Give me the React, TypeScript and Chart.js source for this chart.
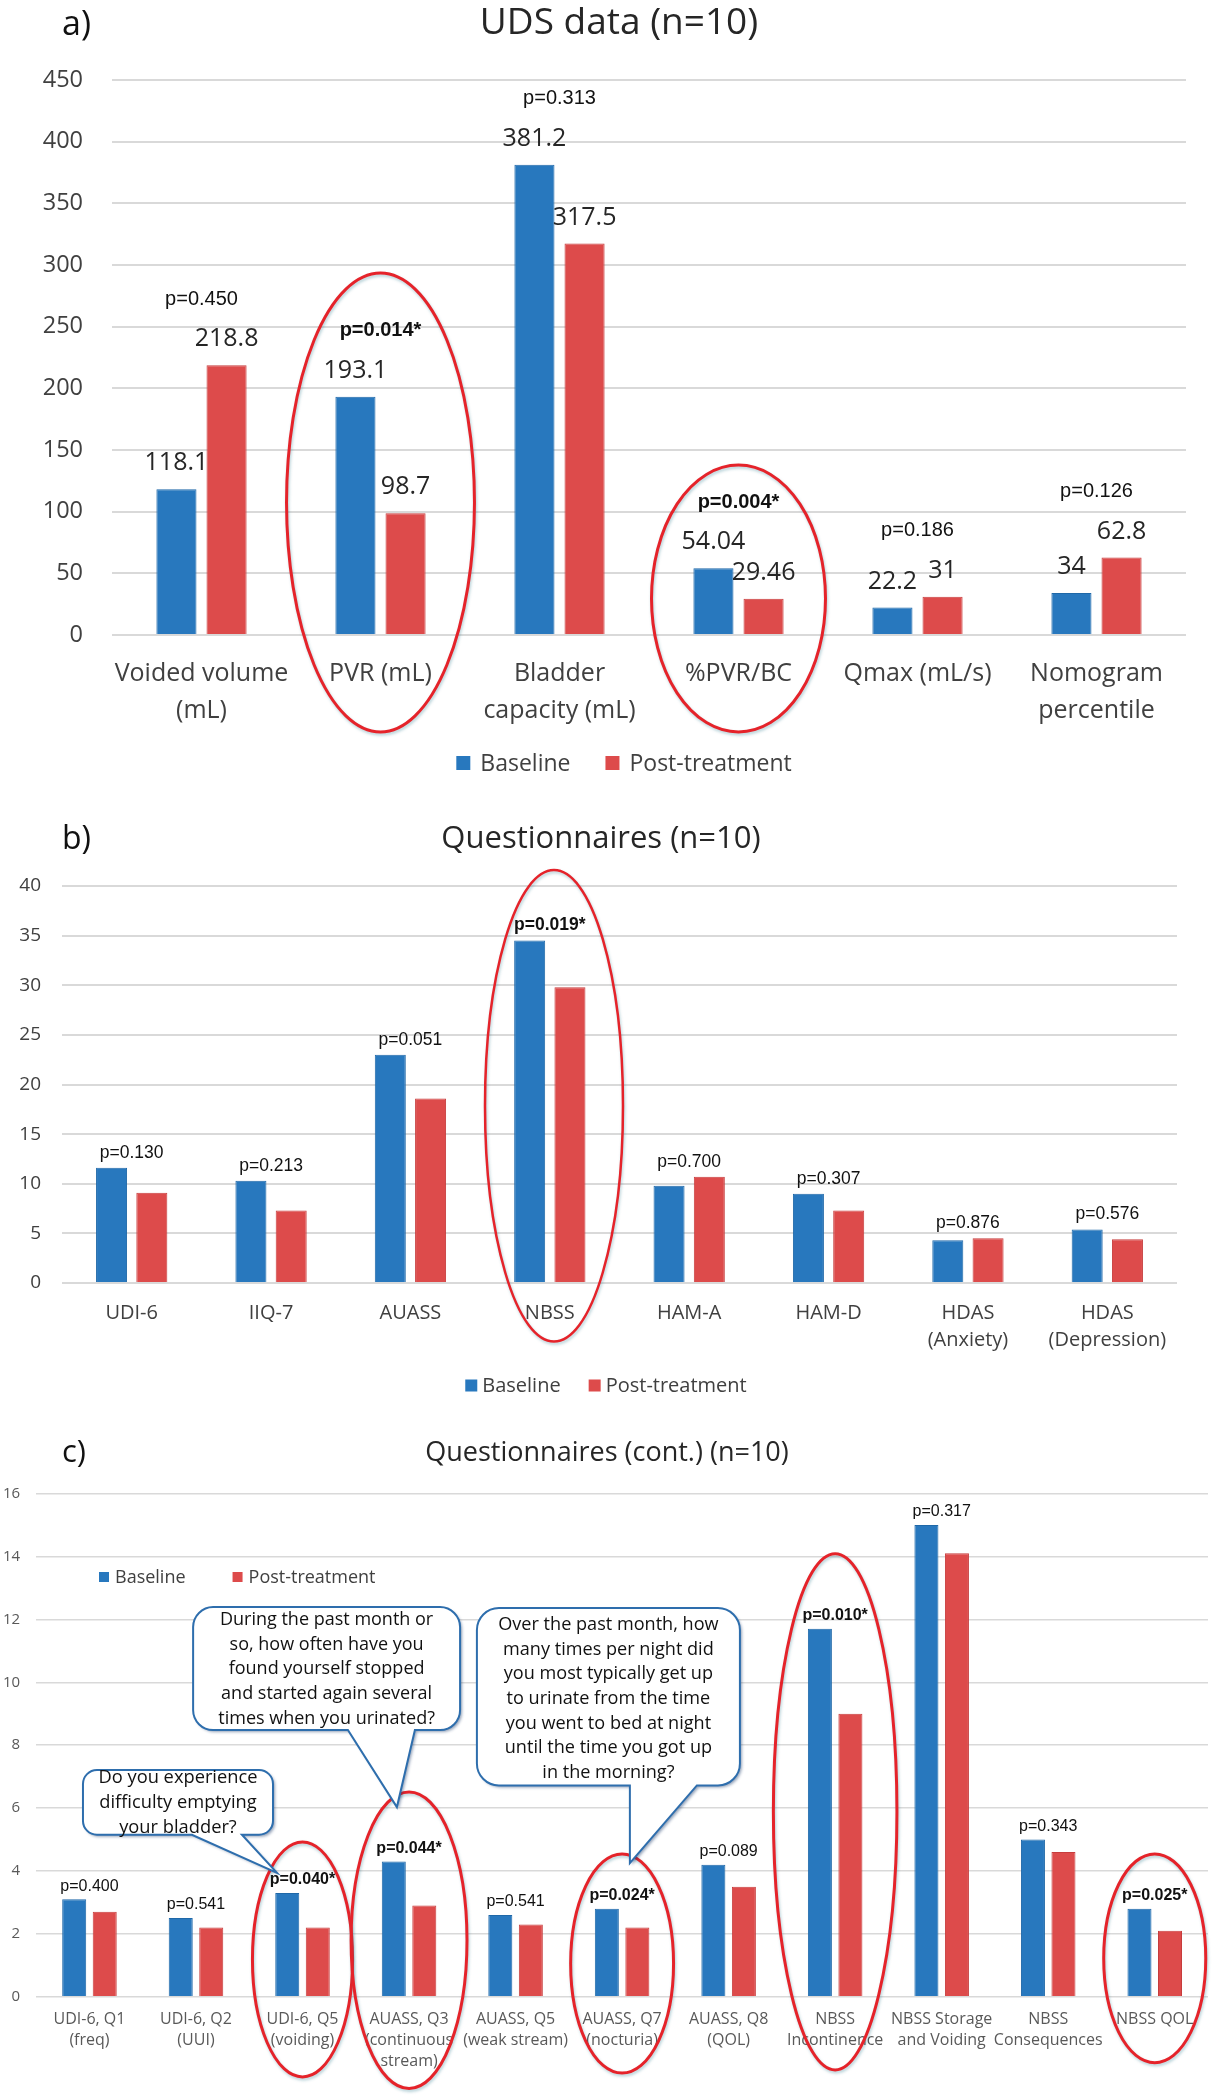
import React, { useEffect, useRef } from 'react';
import { Chart, registerables } from 'chart.js';

Chart.register(...registerables);

const OPEN = "'Open Sans', 'Noto Sans', sans-serif";
const ARIAL = "'Liberation Sans', Arial, sans-serif";
const BLUE = '#2878BE';
const BLUE_EDGE = '#1F68A8';
const RED = '#DD4B4B';
const RED_EDGE = '#C73D3D';
const ELLIPSE = '#E5232A';
const BUBBLE_EDGE = '#2E6EAD';

// ---------- Panel a: UDS data ----------
const udsCategories = [['Voided volume', '(mL)'], 'PVR (mL)', ['Bladder', 'capacity (mL)'], '%PVR/BC', 'Qmax (mL/s)', ['Nomogram', 'percentile']];
const udsBaseline = [118.1, 193.1, 381.2, 54.04, 22.2, 34];
const udsPost = [218.8, 98.7, 317.5, 29.46, 31, 62.8];
const udsPValues = ['p=0.450', 'p=0.014*', 'p=0.313', 'p=0.004*', 'p=0.186', 'p=0.126'];
const udsTicks = { min: 0, max: 450, step: 50 };

// ---------- Panel b: Questionnaires ----------
const questCategories = ['UDI-6', 'IIQ-7', 'AUASS', 'NBSS', 'HAM-A', 'HAM-D', ['HDAS', '(Anxiety)'], ['HDAS', '(Depression)']];
const questBaseline = [11.6, 10.3, 23.0, 34.5, 9.8, 9.0, 4.3, 5.4];
const questPost = [9.1, 7.3, 18.6, 29.8, 10.7, 7.3, 4.5, 4.4];
const questPValues = ['p=0.130', 'p=0.213', 'p=0.051', 'p=0.019*', 'p=0.700', 'p=0.307', 'p=0.876', 'p=0.576'];
const questTicks = { min: 0, max: 40, step: 5 };

// ---------- Panel c: Questionnaires (cont.) ----------
const contCategories = [
  ['UDI-6, Q1', '(freq)'], ['UDI-6, Q2', '(UUI)'], ['UDI-6, Q5', '(voiding)'],
  ['AUASS, Q3', '(continuous', 'stream)'], ['AUASS, Q5', '(weak stream)'], ['AUASS, Q7', '(nocturia)'],
  ['AUASS, Q8', '(QOL)'], ['NBSS', 'Incontinence'], ['NBSS Storage', 'and Voiding'], ['NBSS', 'Consequences'], 'NBSS QOL',
];
const contBaseline = [3.1, 2.5, 3.3, 4.3, 2.6, 2.8, 4.2, 11.7, 15.0, 5.0, 2.8];
const contPost = [2.7, 2.2, 2.2, 2.9, 2.3, 2.2, 3.5, 9.0, 14.1, 4.6, 2.1];
const contPValues = ['p=0.400', 'p=0.541', 'p=0.040*', 'p=0.044*', 'p=0.541', 'p=0.024*', 'p=0.089', 'p=0.010*', 'p=0.317', 'p=0.343', 'p=0.025*'];
const contTicks = { min: 0, max: 16, step: 2 };

const bubble1Lines = ['Do you experience', 'difficulty emptying', 'your bladder?'];
const bubble2Lines = ['During the past month or', 'so, how often have you', 'found yourself stopped', 'and started again several', 'times when you urinated?'];
const bubble3Lines = ['Over the past month, how', 'many times per night did', 'you most typically get up', 'to urinate from the time', 'you went to bed at night', 'until the time you got up', 'in the morning?'];

type Ellipse = { cat: number; dx?: number; top: number; bottom: number; rx: number };
type Bubble = { left: number; right: number; top: number; bottom: number; radius: number; tail: [number, number, number, number]; firstLine: number; lines: string[]; font: number };

type Spec = {
  top: number; height: number;
  letter: string; letterX: number; letterBase: number; letterSize: number;
  title: string; titleX: number; titleBase: number; titleSize: number;
  legend: { x?: number; center?: number; y: number; size: number; box: number; textGap: number; itemGap: number; color: string };
  pLabels: string[]; pSize: number; pOffset: number;
  values?: { size: number; offset: number };
  ellipses: Ellipse[]; ellipseWidth: number;
  bubbles?: Bubble[];
};

function bubblePath(ctx: CanvasRenderingContext2D, l: number, t: number, r: number, b: number, rad: number, bl: number, br: number, tx: number, ty: number) {
  ctx.beginPath();
  ctx.moveTo(l + rad, t);
  ctx.lineTo(r - rad, t);
  ctx.arcTo(r, t, r, t + rad, rad);
  ctx.lineTo(r, b - rad);
  ctx.arcTo(r, b, r - rad, b, rad);
  ctx.lineTo(br, b);
  ctx.lineTo(tx, ty);
  ctx.lineTo(bl, b);
  ctx.lineTo(l + rad, b);
  ctx.arcTo(l, b, l, b - rad, rad);
  ctx.lineTo(l, t + rad);
  ctx.arcTo(l, t, l + rad, t, rad);
  ctx.closePath();
}

function makePlugin(spec: Spec) {
  return {
    id: 'panelDecor',
    afterDatasetsDraw(chart: any) {
      const ctx: CanvasRenderingContext2D = chart.ctx;
      const xs = chart.scales.x;
      ctx.save();
      ctx.textAlign = 'center';
      ctx.textBaseline = 'middle';
      if (spec.values) {
        ctx.font = `${spec.values.size}px ${OPEN}`;
        ctx.fillStyle = '#262626';
        chart.data.datasets.forEach((d: any, di: number) => {
          chart.getDatasetMeta(di).data.forEach((el: any, i: number) => {
            ctx.fillText(String(d.data[i]), el.x, el.y - spec.values!.offset);
          });
        });
      }
      spec.pLabels.forEach((txt, i) => {
        let topY = Infinity;
        chart.data.datasets.forEach((_d: any, di: number) => {
          const el = chart.getDatasetMeta(di).data[i];
          if (el) topY = Math.min(topY, el.y);
        });
        const bold = txt.indexOf('*') >= 0;
        ctx.font = `${bold ? 'bold ' : ''}${spec.pSize}px ${ARIAL}`;
        ctx.fillStyle = '#111111';
        ctx.fillText(txt, xs.getPixelForValue(i), topY - spec.pOffset);
      });
      ctx.restore();
    },
    afterDraw(chart: any) {
      const ctx: CanvasRenderingContext2D = chart.ctx;
      const xs = chart.scales.x;
      const ys = chart.scales.y;
      const catW = xs.getPixelForValue(1) - xs.getPixelForValue(0);
      ctx.save();
      // ellipses
      spec.ellipses.forEach((e) => {
        const cx = xs.getPixelForValue(e.cat + (e.dx || 0));
        const t = ys.getPixelForValue(e.top);
        const b = ys.getPixelForValue(e.bottom);
        ctx.save();
        ctx.shadowColor = 'rgba(40,120,140,0.35)';
        ctx.shadowBlur = 3;
        ctx.shadowOffsetX = 1;
        ctx.shadowOffsetY = 2;
        ctx.beginPath();
        ctx.ellipse(cx, (t + b) / 2, e.rx * catW, (b - t) / 2, 0, 0, Math.PI * 2);
        ctx.strokeStyle = ELLIPSE;
        ctx.lineWidth = spec.ellipseWidth;
        ctx.stroke();
        ctx.restore();
      });
      // speech bubbles
      (spec.bubbles || []).forEach((bb) => {
        const l = xs.getPixelForValue(bb.left);
        const r = xs.getPixelForValue(bb.right);
        const t = ys.getPixelForValue(bb.top);
        const b = ys.getPixelForValue(bb.bottom);
        const bl = xs.getPixelForValue(bb.tail[0]);
        const br = xs.getPixelForValue(bb.tail[1]);
        const tx = xs.getPixelForValue(bb.tail[2]);
        const ty = ys.getPixelForValue(bb.tail[3]);
        ctx.save();
        ctx.shadowColor = 'rgba(20,50,100,0.45)';
        ctx.shadowBlur = 3;
        ctx.shadowOffsetX = 2;
        ctx.shadowOffsetY = 2;
        bubblePath(ctx, l, t, r, b, bb.radius, bl, br, tx, ty);
        ctx.fillStyle = '#FFFFFF';
        ctx.fill();
        ctx.restore();
        bubblePath(ctx, l, t, r, b, bb.radius, bl, br, tx, ty);
        ctx.strokeStyle = BUBBLE_EDGE;
        ctx.lineWidth = 2;
        ctx.stroke();
        ctx.fillStyle = '#111111';
        ctx.font = `${bb.font}px ${OPEN}`;
        ctx.textAlign = 'center';
        ctx.textBaseline = 'middle';
        const y0 = ys.getPixelForValue(bb.firstLine);
        bb.lines.forEach((ln, k) => ctx.fillText(ln, (l + r) / 2, y0 + k * 24.7));
      });
      // panel letter and title
      ctx.fillStyle = '#111111';
      ctx.textBaseline = 'alphabetic';
      ctx.textAlign = 'left';
      ctx.font = `${spec.letterSize}px ${OPEN}`;
      ctx.fillText(spec.letter, spec.letterX, spec.letterBase - spec.top);
      ctx.textAlign = 'center';
      ctx.fillStyle = '#262626';
      ctx.font = `${spec.titleSize}px ${OPEN}`;
      ctx.fillText(spec.title, spec.titleX, spec.titleBase - spec.top);
      // legend
      const lg = spec.legend;
      ctx.font = `${lg.size}px ${OPEN}`;
      const items = chart.data.datasets.map((d: any) => ({ label: d.label, color: d.backgroundColor, w: ctx.measureText(d.label).width }));
      let total = 0;
      items.forEach((it: any, k: number) => { total += lg.box + lg.textGap + it.w + (k < items.length - 1 ? lg.itemGap : 0); });
      let x = lg.x !== undefined ? lg.x : (lg.center as number) - total / 2;
      const yc = lg.y - spec.top;
      ctx.textAlign = 'left';
      ctx.textBaseline = 'middle';
      items.forEach((it: any) => {
        ctx.fillStyle = it.color;
        ctx.fillRect(x, yc - lg.box / 2, lg.box, lg.box);
        x += lg.box + lg.textGap;
        ctx.fillStyle = lg.color;
        ctx.fillText(it.label, x, yc + 1);
        x += it.w + lg.itemGap;
      });
      ctx.restore();
    },
  };
}

type Axes = {
  labels: any[]; base: number[]; post: number[]; ticks: { min: number; max: number; step: number };
  yWidth: number; rightPad: number; topPad: number; xHeight: number; bottomPad: number;
  yFont: number; yPad: number; xFont: number; xLine: number; xPad: number; color: string;
  gridWidth: number; cp: number; bp: number;
};

function buildConfig(a: Axes, spec: Spec): any {
  return {
    type: 'bar',
    data: {
      labels: a.labels,
      datasets: [
        { label: 'Baseline', data: a.base, backgroundColor: BLUE, borderColor: BLUE_EDGE, borderWidth: 1, categoryPercentage: a.cp, barPercentage: a.bp },
        { label: 'Post-treatment', data: a.post, backgroundColor: RED, borderColor: RED_EDGE, borderWidth: 1, categoryPercentage: a.cp, barPercentage: a.bp },
      ],
    },
    options: {
      responsive: false,
      animation: false,
      events: [],
      layout: { padding: { left: 0, right: a.rightPad, top: a.topPad, bottom: a.bottomPad } },
      plugins: { legend: { display: false }, tooltip: { enabled: false }, title: { display: false } },
      scales: {
        x: {
          type: 'category',
          offset: true,
          grid: { display: false, drawTicks: false },
          border: { display: false },
          ticks: { autoSkip: false, maxRotation: 0, minRotation: 0, padding: a.xPad, color: a.color, font: { family: OPEN, size: a.xFont, lineHeight: a.xLine } },
          afterFit: (s: any) => { s.height = a.xHeight; },
        },
        y: {
          min: a.ticks.min,
          max: a.ticks.max,
          grid: { color: '#D9D9D9', lineWidth: a.gridWidth, drawTicks: false },
          border: { display: false },
          ticks: { stepSize: a.ticks.step, padding: a.yPad, color: a.color, font: { family: OPEN, size: a.yFont } },
          afterFit: (s: any) => { s.width = a.yWidth; },
        },
      },
    },
    plugins: [makePlugin(spec)],
  };
}

const specA: Spec = {
  top: 0, height: 800,
  letter: 'a)', letterX: 62, letterBase: 35, letterSize: 34,
  title: 'UDS data (n=10)', titleX: 619, titleBase: 34, titleSize: 37,
  legend: { center: 624, y: 763, size: 23, box: 14, textGap: 10, itemGap: 35, color: '#404040' },
  pLabels: udsPValues, pSize: 20, pOffset: 66,
  values: { size: 25, offset: 26 },
  ellipses: [
    { cat: 1, top: 293.5, bottom: -78.6, rx: 0.525 },
    { cat: 3, top: 137.8, bottom: -78.6, rx: 0.486 },
  ],
  ellipseWidth: 3,
};
const axesA: Axes = {
  labels: udsCategories, base: udsBaseline, post: udsPost, ticks: udsTicks,
  yWidth: 112, rightPad: 27, topPad: 80, xHeight: 100, bottomPad: 65,
  yFont: 23.5, yPad: 29, xFont: 25, xLine: 1.48, xPad: 20, color: '#404040', gridWidth: 2, cp: 0.56, bp: 0.8,
};

const specB: Spec = {
  top: 800, height: 610,
  letter: 'b)', letterX: 62, letterBase: 849, letterSize: 32,
  title: 'Questionnaires (n=10)', titleX: 601, titleBase: 848, titleSize: 31,
  legend: { center: 606, y: 1385.5, size: 20, box: 12, textGap: 5, itemGap: 28, color: '#404040' },
  pLabels: questPValues, pSize: 17.5, pOffset: 15,
  ellipses: [{ cat: 3, dx: 0.03, top: 41.6, bottom: -5.9, rx: 0.495 }],
  ellipseWidth: 2.5,
};
const axesB: Axes = {
  labels: questCategories, base: questBaseline, post: questPost, ticks: questTicks,
  yWidth: 62, rightPad: 36, topPad: 86, xHeight: 80, bottomPad: 47,
  yFont: 19, yPad: 21, xFont: 20, xLine: 1.35, xPad: 16.5, color: '#404040', gridWidth: 2, cp: 0.578, bp: 0.77,
};

const specC: Spec = {
  top: 1410, height: 690,
  letter: 'c)', letterX: 62, letterBase: 1462, letterSize: 31,
  title: 'Questionnaires (cont.) (n=10)', titleX: 607, titleBase: 1461, titleSize: 27,
  legend: { x: 99, y: 1577, size: 18, box: 10, textGap: 6, itemGap: 47, color: '#404040' },
  pLabels: contPValues, pSize: 16, pOffset: 13,
  ellipses: [
    { cat: 2, top: 4.92, bottom: -2.55, rx: 0.47 },
    { cat: 3, top: 6.51, bottom: -2.92, rx: 0.544 },
    { cat: 5, top: 4.54, bottom: -2.43, rx: 0.483 },
    { cat: 7, top: 14.09, bottom: -2.33, rx: 0.58 },
    { cat: 10, top: 4.54, bottom: -2.1, rx: 0.479 },
  ],
  ellipseWidth: 3,
  bubbles: [
    { left: -0.061, right: 1.723, top: 7.21, bottom: 5.15, radius: 14, tail: [0.962, 1.431, 1.76, 3.94], firstLine: 6.95, lines: bubble1Lines, font: 18.3 },
    { left: 0.973, right: 3.479, top: 12.39, bottom: 8.48, radius: 20, tail: [2.426, 3.055, 2.886, 6.03], firstLine: 11.99, lines: bubble2Lines, font: 18 },
    { left: 3.637, right: 6.106, top: 12.36, bottom: 6.72, radius: 22, tail: [5.073, 5.702, 5.073, 4.25], firstLine: 11.83, lines: bubble3Lines, font: 18.1 },
  ],
};
const axesC: Axes = {
  labels: contCategories, base: contBaseline, post: contPost, ticks: contTicks,
  yWidth: 36.2, rightPad: 5, topPad: 83.6, xHeight: 80, bottomPad: 23.3,
  yFont: 15, yPad: 16, xFont: 16, xLine: 1.33, xPad: 12, color: '#595959', gridWidth: 1.5, cp: 0.573, bp: 0.787,
};

function Panel({ spec, axes }: { spec: Spec; axes: Axes }) {
  const ref = useRef<HTMLCanvasElement>(null);
  useEffect(() => {
    if (!ref.current) return;
    const chart = new Chart(ref.current, buildConfig(axes, spec));
    return () => chart.destroy();
  }, []);
  return (
    <div style={{ position: 'absolute', left: 0, top: spec.top, width: 1213, height: spec.height }}>
      <canvas ref={ref} width={1213} height={spec.height} style={{ display: 'block', width: 1213, height: spec.height }} />
    </div>
  );
}

export default function App() {
  return (
    <div style={{ position: 'absolute', left: 0, top: 0, width: 1213, height: 2100, background: '#FFFFFF', overflow: 'hidden' }}>
      <Panel spec={specA} axes={axesA} />
      <Panel spec={specB} axes={axesB} />
      <Panel spec={specC} axes={axesC} />
    </div>
  );
}
